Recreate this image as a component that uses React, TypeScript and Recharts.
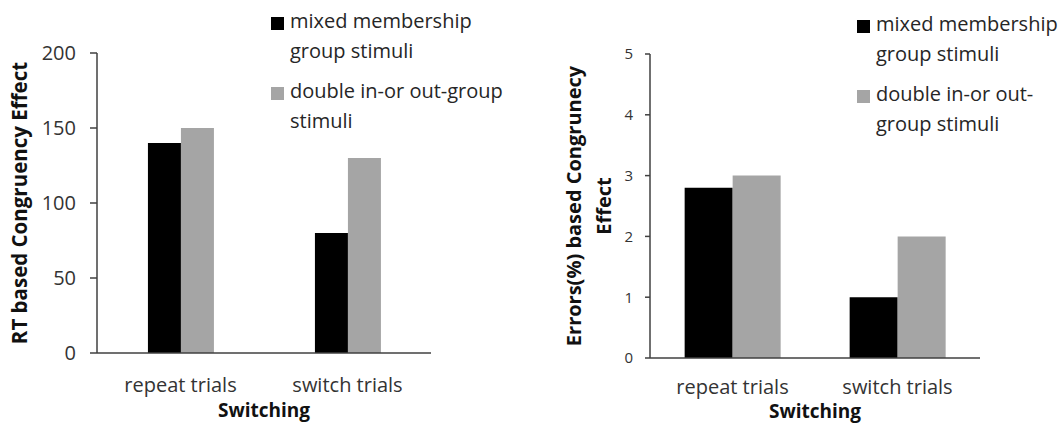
import React from "react";
import { BarChart, Bar, XAxis, YAxis, Legend, Label } from "recharts";

// values
const categories = ["repeat trials", "switch trials"];
const rtMixed = [140, 80];
const rtDouble = [150, 130];
const errMixed = [2.8, 1.0];
const errDouble = [3.0, 2.0];

const rtTicks = [0, 50, 100, 150, 200];
const errTicks = [0, 1, 2, 3, 4, 5];

const rtNames = ["mixed membership\ngroup stimuli", "double in-or out-group\nstimuli"];
const errNames = ["mixed membership\ngroup stimuli", "double in-or out-\ngroup stimuli"];
const xTitle = "Switching";
const rtTitle = ["RT based Congruency Effect"];
const errTitle = ["Errors(%) based Congrunecy", "Effect"];

const COLORS = ["#000000", "#a5a5a5"];
const AXIS = "#404040";
const FONT = "'Open Sans', sans-serif";

const rtData = categories.map((c, i) => ({ category: c, mixed: rtMixed[i], double: rtDouble[i] }));
const errData = categories.map((c, i) => ({ category: c, mixed: errMixed[i], double: errDouble[i] }));

// legend keeps the series order (recharts sorts by name otherwise)
function LegendBox(props: any) {
  const order: string[] = props.order || [];
  const items = [...(props.payload || [])].sort(
    (a: any, b: any) => order.indexOf(a.value) - order.indexOf(b.value)
  );
  return (
    <div>
      {items.map((p: any, i: number) => (
        <div key={i} style={{ display: "flex", alignItems: "flex-start", marginBottom: 10 }}>
          <span
            style={{
              display: "inline-block",
              width: 13,
              height: 13,
              background: p.color,
              marginTop: 11,
              marginRight: 6,
              flexShrink: 0,
            }}
          />
          <span style={{ whiteSpace: "pre-line", lineHeight: "30px", fontSize: 20, color: "#262626" }}>
            {p.value}
          </span>
        </div>
      ))}
    </div>
  );
}

// rotated y axis title, one or more lines; firstBaseline is measured from the axis box left edge
function yTitle(lines: string[], firstBaseline: number, size: number, fallback: any) {
  return (props: any) => {
    const vb = props.viewBox && props.viewBox.height ? props.viewBox : fallback;
    const cy = vb.y + vb.height / 2;
    return (
      <g>
        {lines.map((t, i) => {
          const x = vb.x + firstBaseline + i * 30;
          return (
            <text
              key={i}
              x={x}
              y={cy}
              transform={`rotate(-90, ${x}, ${cy})`}
              textAnchor="middle"
              fontSize={size}
              fontWeight={700}
              fill="#111"
            >
              {t}
            </text>
          );
        })}
      </g>
    );
  };
}

export default function App() {
  return (
    <div
      style={{
        position: "absolute",
        left: 0,
        top: 0,
        width: 1063,
        height: 424,
        overflow: "hidden",
        fontFamily: FONT,
        background: "#fff",
      }}
    >
      <div style={{ position: "absolute", left: 0, top: 0 }}>
        <BarChart
          width={530}
          height={424}
          data={rtData}
          margin={{ top: 53, right: 99, bottom: 1, left: 0 }}
          barCategoryGap="30.5%"
          barGap={0}
        >
          <XAxis
            dataKey="category"
            height={70}
            interval={0}
            tickLine={false}
            tickSize={0}
            tickMargin={25}
            axisLine={{ stroke: AXIS, strokeWidth: 1.5 }}
            tick={{ fontSize: 20, fill: "#333" }}
          >
            <Label value={xTitle} position="insideBottom" offset={6} fontSize={19} fontWeight={700} fill="#111" />
          </XAxis>
          <YAxis
            width={97}
            domain={[0, 200]}
            ticks={rtTicks}
            interval={0}
            tickSize={7}
            tickMargin={14}
            axisLine={{ stroke: AXIS, strokeWidth: 1.5 }}
            tickLine={{ stroke: AXIS, strokeWidth: 1.5 }}
            tick={{ fontSize: 20, fill: "#333" }}
          >
            <Label content={yTitle(rtTitle, 27, 20.5, { x: 0, y: 53, width: 97, height: 300 })} />
          </YAxis>
          <Legend
            layout="vertical"
            align="center"
            verticalAlign="middle"
            content={<LegendBox order={rtNames} />}
            wrapperStyle={{ position: "absolute", left: 271, top: 6, width: 259 }}
          />
          <Bar dataKey="mixed" name={rtNames[0]} fill={COLORS[0]} isAnimationActive={false} />
          <Bar dataKey="double" name={rtNames[1]} fill={COLORS[1]} isAnimationActive={false} />
        </BarChart>
      </div>

      <div style={{ position: "absolute", left: 530, top: 0 }}>
        <BarChart
          width={533}
          height={424}
          data={errData}
          margin={{ top: 54, right: 83, bottom: 1, left: 0 }}
          barCategoryGap="21%"
          barGap={0}
        >
          <XAxis
            dataKey="category"
            height={65}
            interval={0}
            tickLine={false}
            tickSize={0}
            tickMargin={22}
            axisLine={{ stroke: AXIS, strokeWidth: 1.5 }}
            tick={{ fontSize: 20, fill: "#333" }}
          >
            <Label value={xTitle} position="insideBottom" offset={5} fontSize={19} fontWeight={700} fill="#111" />
          </XAxis>
          <YAxis
            width={120}
            domain={[0, 5]}
            ticks={errTicks}
            interval={0}
            tickSize={5}
            tickMargin={12}
            axisLine={{ stroke: AXIS, strokeWidth: 1.5 }}
            tickLine={{ stroke: AXIS, strokeWidth: 1.5 }}
            tick={{ fontSize: 15, fill: "#333" }}
          >
            <Label content={yTitle(errTitle, 51, 20, { x: 0, y: 54, width: 120, height: 304 })} />
          </YAxis>
          <Legend
            layout="vertical"
            align="center"
            verticalAlign="middle"
            content={<LegendBox order={errNames} />}
            wrapperStyle={{ position: "absolute", left: 327, top: 9, width: 206 }}
          />
          <Bar dataKey="mixed" name={errNames[0]} fill={COLORS[0]} isAnimationActive={false} />
          <Bar dataKey="double" name={errNames[1]} fill={COLORS[1]} isAnimationActive={false} />
        </BarChart>
      </div>
    </div>
  );
}
